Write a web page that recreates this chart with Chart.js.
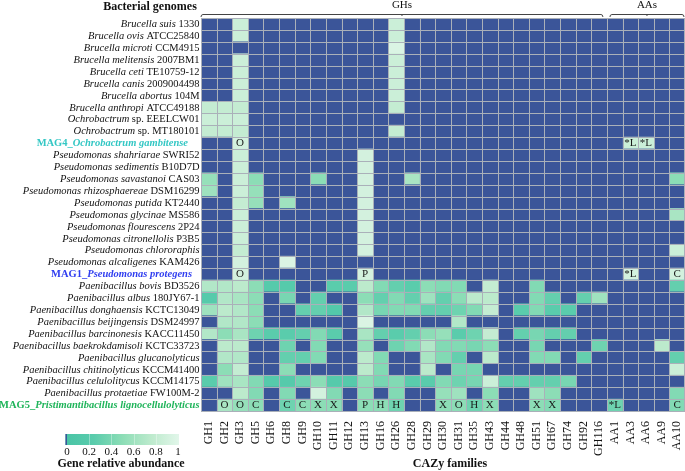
<!DOCTYPE html>
<html><head><meta charset="utf-8">
<script src="https://cdn.jsdelivr.net/npm/chart.js@4"></script>
<style>html,body{margin:0;padding:0;background:#fff}canvas{display:block}</style>
</head><body>
<canvas id="c" width="685" height="471"></canvas>
<script>
// ---- data ----
const families = ['GH1','GH2','GH3','GH5','GH6','GH8','GH9','GH10','GH11','GH12','GH13','GH16','GH26','GH28','GH29','GH30','GH31','GH35','GH43','GH44','GH48','GH51','GH67','GH74','GH92','GH116','AA1','AA3','AA6','AA9','AA10'];
const familyGroups = [{name:'GHs', from:0, to:25}, {name:'AAs', from:26, to:30}];

const genomePrefix = ['','','','','','','','','','','MAG4_','','','','','','','','','','','MAG1_','','','','','','','','','','','MAG5_'];
const genomeItalic = ['Brucella suis','Brucella ovis','Brucella microti','Brucella melitensis','Brucella ceti','Brucella canis','Brucella abortus','Brucella anthropi','Ochrobactrum','Ochrobactrum','Ochrobactrum gambitense',
 'Pseudomonas shahriarae','Pseudomonas sedimentis','Pseudomonas savastanoi','Pseudomonas rhizosphaereae','Pseudomonas putida','Pseudomonas glycinae','Pseudomonas flourescens','Pseudomonas citronellolis','Pseudomonas chlororaphis','Pseudomonas alcaligenes','Pseudomonas protegens',
 'Paenibacillus bovis','Paenibacillus albus','Paenibacillus donghaensis','Paenibacillus beijingensis','Paenibacillus barcinonesis','Paenibacillus baekrokdamisoli','Paenibacillus glucanolyticus','Paenibacillus chitinolyticus','Paenibacillus celulolitycus','Paenibacillus protaetiae','Pristimantibacillus lignocellulolyticus'];
const genomeStrain = ['1330','ATCC25840','CCM4915','2007BM1','TE10759-12','2009004498','104M','ATCC49188','sp. EEELCW01','sp. MT180101','',
 'SWRI52','B10D7D','CAS03','DSM16299','KT2440','MS586','2P24','P3B5','','KAM426','',
 'BD3526','180JY67-1','KCTC13049','DSM24997','KACC11450','KCTC33723','','KCCM41400','KCCM14175','FW100M-2',''];
const magColors = {10:'#33c7c4', 21:'#2f3df0', 32:'#1fb45a'};

// relative abundance, one row per genome, columns follow `families` (0 = absent)
const abundance = [
 [0,0,.85,0,0,0,0,0,0,0,0,0,.85,0,0,0,0,0,0,0,0,0,0,0,0,0,0,0,0,0,0],
 [0,0,.85,0,0,0,0,0,0,0,0,0,.85,0,0,0,0,0,0,0,0,0,0,0,0,0,0,0,0,0,0],
 [0,0,0,0,0,0,0,0,0,0,0,0,.95,0,0,0,0,0,0,0,0,0,0,0,0,0,0,0,0,0,0],
 [0,0,.85,0,0,0,0,0,0,0,0,0,.85,0,0,0,0,0,0,0,0,0,0,0,0,0,0,0,0,0,0],
 [0,0,.85,0,0,0,0,0,0,0,0,0,.85,0,0,0,0,0,0,0,0,0,0,0,0,0,0,0,0,0,0],
 [0,0,.85,0,0,0,0,0,0,0,0,0,.85,0,0,0,0,0,0,0,0,0,0,0,0,0,0,0,0,0,0],
 [0,0,.85,0,0,0,0,0,0,0,0,0,.85,0,0,0,0,0,0,0,0,0,0,0,0,0,0,0,0,0,0],
 [.8,.8,.8,0,0,0,0,0,0,0,0,0,.8,0,0,0,0,0,0,0,0,0,0,0,0,0,0,0,0,0,0],
 [.85,.85,.85,0,0,0,0,0,0,0,0,0,0,0,0,0,0,0,0,0,0,0,0,0,0,0,0,0,0,0,0],
 [.8,.8,.8,0,0,0,0,0,0,0,0,0,.8,0,0,0,0,0,0,0,0,0,0,0,0,0,0,0,0,0,0],
 [0,0,.9,0,0,0,0,0,0,0,0,0,0,0,0,0,0,0,0,0,0,0,0,0,0,0,0,.85,.85,0,0],
 [0,0,.85,0,0,0,0,0,0,0,.9,0,0,0,0,0,0,0,0,0,0,0,0,0,0,0,0,0,0,0,0],
 [0,0,.85,0,0,0,0,0,0,0,.9,0,0,0,0,0,0,0,0,0,0,0,0,0,0,0,0,0,0,0,0],
 [.55,0,.85,.5,0,0,0,.5,0,0,.9,0,0,.65,0,0,0,0,0,0,0,0,0,0,0,0,0,0,0,0,.5],
 [.6,0,.85,.55,0,0,0,0,0,0,.9,0,0,0,0,0,0,0,0,0,0,0,0,0,0,0,0,0,0,0,0],
 [0,0,.8,.55,0,.6,0,0,0,0,.9,0,0,0,0,0,0,0,0,0,0,0,0,0,0,0,0,0,0,0,0],
 [0,0,.85,0,0,0,0,0,0,0,.9,0,0,0,0,0,0,0,0,0,0,0,0,0,0,0,0,0,0,0,.65],
 [0,0,.85,0,0,0,0,0,0,0,.9,0,0,0,0,0,0,0,0,0,0,0,0,0,0,0,0,0,0,0,0],
 [0,0,.85,0,0,0,0,0,0,0,.9,0,0,0,0,0,0,0,0,0,0,0,0,0,0,0,0,0,0,0,0],
 [0,0,.8,0,0,0,0,0,0,0,.9,0,0,0,0,0,0,0,0,0,0,0,0,0,0,0,0,0,0,0,.85],
 [0,0,.9,0,0,.95,0,0,0,0,0,0,0,0,0,0,0,0,0,0,0,0,0,0,0,0,0,0,0,0,0],
 [0,0,.9,0,0,0,0,0,0,0,.9,0,0,0,0,0,0,0,0,0,0,0,0,0,0,0,0,.9,0,0,.9],
 [.7,.7,.75,.5,.2,.2,0,0,.25,.25,.75,.45,.3,.25,.5,.45,.45,0,.8,0,0,.45,0,0,0,0,0,0,0,0,.3],
 [.2,.7,.65,.5,0,.4,0,.3,0,0,.5,.3,.45,.3,.6,.3,.5,.75,.75,0,0,.45,.3,0,.3,.6,0,0,0,0,0],
 [.6,.75,.7,.5,0,0,.3,.3,.15,0,.7,.4,.45,.45,.3,.3,.35,.45,.8,0,.25,.45,.25,.25,0,0,0,0,0,0,0],
 [0,.7,.7,.5,0,0,0,0,0,0,.95,0,0,0,0,0,.7,0,0,0,0,0,0,0,0,0,0,0,0,0,0],
 [.7,.5,.65,.35,.25,.25,.3,.45,.25,0,.65,.3,.25,.3,.5,.55,.25,.35,.8,0,.3,.4,.3,.3,0,0,0,0,0,0,0],
 [0,.75,.75,0,0,.35,0,.45,0,0,.55,0,.35,.45,.7,.45,.45,.4,.5,0,0,.4,0,0,0,.35,0,0,0,.75,0],
 [0,.7,.7,0,0,.3,.3,.45,0,0,.75,.45,0,0,.65,.45,.3,0,.75,0,0,.45,.45,0,.3,0,0,0,0,0,.3],
 [0,.5,.8,0,0,.5,0,0,0,0,.75,.45,0,0,.75,0,.4,.4,0,0,0,0,0,0,0,0,0,0,0,0,.85],
 [.25,.6,.65,.45,.2,.2,.35,.5,.2,.2,.5,.4,.45,.25,.25,.45,.35,.4,.85,.3,.3,.3,.3,.4,0,0,0,0,0,0,0],
 [0,0,.75,.45,0,.45,0,.9,.45,0,.5,0,.45,0,0,.55,.6,0,.5,0,0,.6,.5,0,0,0,0,0,0,0,.45],
 [0,.65,.55,.5,0,.35,.5,.5,.5,0,.5,.5,.35,0,0,.5,.5,.35,.5,0,0,.5,.45,0,0,0,.35,0,0,0,.45]
];

// cell annotations for the MAG rows: [row, column, text]
const cellMarks = [
 [10,'GH3','O'],[10,'AA3','*L'],[10,'AA6','*L'],
 [21,'GH3','O'],[21,'GH13','P'],[21,'AA3','*L'],[21,'AA10','C'],
 [32,'GH2','O'],[32,'GH3','O'],[32,'GH5','C'],[32,'GH8','C'],[32,'GH9','C'],[32,'GH10','X'],[32,'GH11','X'],
 [32,'GH13','P'],[32,'GH16','H'],[32,'GH26','H'],[32,'GH30','X'],[32,'GH31','O'],[32,'GH35','H'],[32,'GH43','X'],
 [32,'GH51','X'],[32,'GH67','X'],[32,'AA1','*L'],[32,'AA10','C']
];
const legendTicks = [0, 0.2, 0.4, 0.6, 0.8, 1];

// ---- colours ----
const ZERO_COLOR = '#3b5599';
const cmapStops = [[0,[72,196,166]],[0.25,[90,204,172]],[0.5,[140,221,182]],[0.75,[188,234,204]],[1,[226,246,234]]];
function cmap(t){
  t = Math.max(0, Math.min(1, t));
  for (let k = 1; k < cmapStops.length; k++) {
    const [t1, c1] = cmapStops[k], [t0, c0] = cmapStops[k-1];
    if (t <= t1) {
      const f = (t - t0) / (t1 - t0);
      return 'rgb(' + c0.map((c, i) => Math.round(c + (c1[i] - c) * f)).join(',') + ')';
    }
  }
}
function cellColor(v){ return v > 0 ? cmap(v) : ZERO_COLOR; }

const SERIF = '"Liberation Serif", "Times New Roman", serif';
const genomeNames = genomeItalic.map((g, i) => (genomePrefix[i] + g + ' ' + genomeStrain[i]).trim());

const overlay = {
  id: 'overlay',
  afterDatasetsDraw(chart) {
    const ctx = chart.ctx, xs = chart.scales.x, ys = chart.scales.y, a = chart.chartArea;
    ctx.save();
    ctx.strokeStyle = '#aab0b9'; ctx.lineWidth = 1;
    ctx.beginPath();
    for (let j = 0; j <= families.length; j++) {
      const x = Math.min(Math.round(xs.getPixelForValue(j)) + 0.5, chart.width - 0.5);
      ctx.moveTo(x, a.top); ctx.lineTo(x, a.bottom);
    }
    for (let i = 0; i <= genomeNames.length; i++) {
      const y = Math.round(ys.getPixelForValue(i - 0.5)) + 0.5;
      ctx.moveTo(a.left, y); ctx.lineTo(a.right, y);
    }
    ctx.stroke();
    ctx.fillStyle = '#1a1a1a'; ctx.textAlign = 'center'; ctx.textBaseline = 'middle';
    ctx.font = '11px ' + SERIF;
    cellMarks.forEach(([r, fam, t]) => {
      const j = families.indexOf(fam);
      ctx.fillText(t, xs.getPixelForValue(j + 0.5), ys.getPixelForValue(r) + 0.5);
    });
    ctx.restore();
  },
  afterDraw(chart) {
    const ctx = chart.ctx, xs = chart.scales.x, ys = chart.scales.y, a = chart.chartArea;
    ctx.save();
    ctx.textBaseline = 'middle';
    genomeNames.forEach((n, i) => {
      const mag = genomePrefix[i] !== '';
      const w = mag ? 'bold ' : '';
      const parts = [];
      if (genomePrefix[i]) parts.push([genomePrefix[i], w + '10.5px ' + SERIF]);
      parts.push([genomeItalic[i], 'italic ' + w + '10.5px ' + SERIF]);
      if (genomeStrain[i]) parts.push([' ' + genomeStrain[i], w + '10.5px ' + SERIF]);
      let total = 0;
      parts.forEach(p => { ctx.font = p[1]; p.push(ctx.measureText(p[0]).width); total += p[2]; });
      const right = i === 10 ? 188 : (i === 21 ? 192 : a.left - 1.5);
      let x = right - total;
      const y = ys.getPixelForValue(i) + 0.5;
      ctx.fillStyle = magColors[i] || '#111';
      ctx.textAlign = 'left';
      parts.forEach(p => { ctx.font = p[1]; ctx.fillText(p[0], x, y); x += p[2]; });
    });
    ctx.fillStyle = '#111'; ctx.textAlign = 'center';
    ctx.font = 'bold 12px ' + SERIF;
    ctx.fillText('Bacterial genomes', 150, 7);
    ctx.font = '11px ' + SERIF;
    ctx.strokeStyle = '#444'; ctx.lineWidth = 1;
    familyGroups.forEach((g, k) => {
      const x0 = xs.getPixelForValue(g.from) + (k ? 3 : 0);
      const x1 = xs.getPixelForValue(g.to + 1) - (k ? 1 : 4);
      const yb = 14.5, xm = (x0 + x1) / 2;
      ctx.beginPath();
      ctx.moveTo(x0, yb + 2.5); ctx.quadraticCurveTo(x0, yb, x0 + 2, yb);
      ctx.lineTo(x1 - 2, yb); ctx.quadraticCurveTo(x1, yb, x1, yb + 2.5);
      ctx.moveTo(xm, yb); ctx.lineTo(xm, yb + 1.5);
      ctx.stroke();
      ctx.fillText(g.name, xm, 5);
    });
    ctx.font = 'bold 12px ' + SERIF;
    ctx.fillText('CAZy families', 450, 464);
    const bx0 = 65.5, bx1 = 179, by0 = 434, by1 = 445;
    const grad = ctx.createLinearGradient(bx0, 0, bx1, 0);
    for (let k = 0; k <= 20; k++) grad.addColorStop(k / 20, cmap(k / 20));
    ctx.fillStyle = grad; ctx.fillRect(bx0, by0, bx1 - bx0, by1 - by0);
    ctx.fillStyle = ZERO_COLOR; ctx.fillRect(bx0, by0, 1.5, by1 - by0);
    ctx.strokeStyle = 'rgba(255,255,255,0.35)';
    ctx.beginPath();
    legendTicks.slice(1, -1).forEach(t => { const x = Math.round(67 + t * 111) + 0.5; ctx.moveTo(x, by0); ctx.lineTo(x, by1); });
    ctx.stroke();
    ctx.fillStyle = '#111'; ctx.font = '11px ' + SERIF;
    legendTicks.forEach(t => ctx.fillText(String(t), 67 + t * 111, 452));
    ctx.font = 'bold 12px ' + SERIF;
    ctx.fillText('Gene relative abundance', 121, 464);
    ctx.restore();
  }
};

new Chart(document.getElementById('c'), {
  type: 'bar',
  data: {
    labels: genomeNames,
    datasets: families.map((f, j) => ({
      label: f,
      data: genomeNames.map(() => [j, j + 1]),
      backgroundColor: abundance.map(row => cellColor(row[j])),
      borderWidth: 0, barPercentage: 1, categoryPercentage: 1, grouped: false
    }))
  },
  options: {
    indexAxis: 'y', responsive: false, animation: false,
    layout: { padding: { top: 18, right: 0, left: 0, bottom: 0 } },
    plugins: { legend: { display: false }, tooltip: { enabled: false } },
    scales: {
      x: {
        type: 'linear', min: 0, max: families.length, position: 'bottom',
        grid: { display: false }, border: { display: false },
        afterBuildTicks: s => { s.ticks = families.map((f, j) => ({ value: j + 0.5 })); },
        afterFit: s => { s.height = 60; s.paddingLeft = 0; s.paddingRight = 0; },
        ticks: { autoSkip: false, minRotation: 90, maxRotation: 90, padding: 2, color: '#111',
          font: { family: SERIF, size: 12 }, callback: v => families[Math.floor(v)] }
      },
      y: {
        type: 'category', grid: { display: false }, border: { display: false },
        ticks: { display: false },
        afterFit: s => { s.width = 201; s.paddingTop = 0; s.paddingBottom = 0; }
      }
    }
  },
  plugins: [overlay]
});
</script>
</body></html>
